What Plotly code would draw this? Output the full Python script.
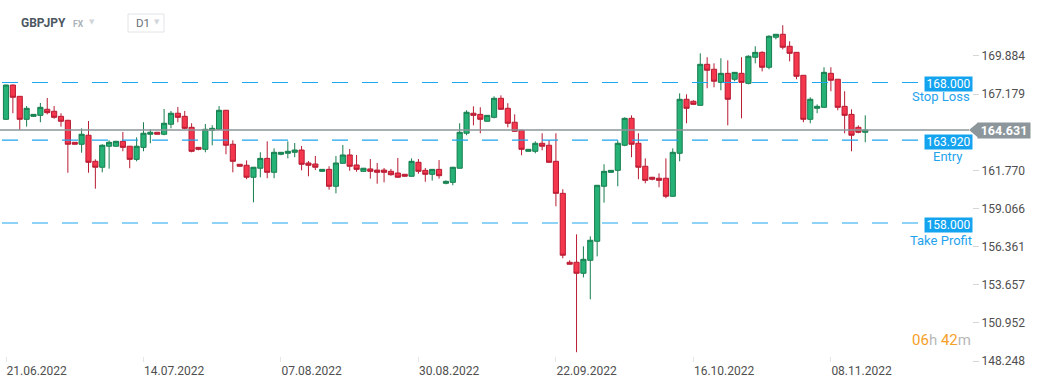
import plotly.graph_objects as go
from datetime import date, timedelta

# ---------------- data (GBPJPY, D1) ----------------
open_ = [165.39, 167.82, 167.02, 165.39, 165.60, 165.67, 166.10, 165.96, 165.60, 165.32,
         163.76, 163.62, 164.26, 162.41, 161.99, 163.48, 163.48, 163.83, 163.48, 162.55,
         163.40, 164.33, 164.47, 164.33, 165.04, 165.82, 165.60, 164.82, 163.40, 163.26,
         164.61, 164.68, 166.03, 163.62, 162.20, 162.13, 161.28, 161.92, 162.62, 161.63,
         162.91, 162.98, 163.05, 163.21, 162.29, 162.22, 161.70, 161.84, 160.64, 162.27,
         162.86, 162.15, 161.70, 161.87, 161.79, 161.79, 161.70, 161.58, 161.49, 161.35,
         162.34, 161.77, 161.49, 161.84, 160.85, 160.92, 161.92, 164.40, 165.82, 165.74,
         165.25, 165.53, 166.88, 166.17, 165.18, 164.61, 163.12, 163.12, 163.69, 163.55,
         162.41, 160.14, 155.25, 155.25, 154.47, 155.39, 156.74, 160.64, 161.63, 161.77,
         163.55, 165.46, 163.69, 162.06, 161.28, 161.21, 161.21, 159.93, 162.98, 166.81,
         166.67, 166.38, 169.29, 168.94, 168.01, 168.65, 168.23, 168.65, 167.94, 169.79,
         170.14, 169.08, 171.21, 171.42, 170.57, 170.14, 168.51, 165.39, 166.17, 166.24,
         168.65, 168.23, 166.31, 165.74, 164.82, 164.47]
high = [167.85, 167.85, 167.04, 166.33, 165.76, 166.55, 166.90, 166.33, 165.82, 165.35,
        163.78, 164.75, 165.27, 162.55, 163.62, 163.90, 163.86, 164.49, 163.50, 164.11,
        165.18, 164.68, 164.49, 166.12, 165.98, 166.26, 165.98, 165.11, 163.42, 165.06,
        164.97, 166.33, 166.05, 163.90, 162.22, 162.48, 162.01, 163.05, 163.83, 163.33,
        163.07, 163.83, 163.71, 163.50, 162.43, 162.79, 161.86, 162.06, 162.79, 163.57,
        163.28, 162.86, 161.94, 162.57, 162.29, 161.94, 161.87, 162.65, 161.51, 162.62,
        162.57, 161.94, 161.86, 162.50, 161.06, 162.01, 165.11, 166.03, 166.31, 166.24,
        165.69, 167.02, 167.09, 166.53, 165.74, 164.63, 163.28, 163.83, 164.40, 163.90,
        164.40, 160.43, 155.39, 157.23, 156.38, 157.09, 160.73, 162.20, 161.79, 163.90,
        165.53, 165.67, 164.40, 162.62, 161.30, 161.56, 162.62, 163.33, 167.23, 167.16,
        166.74, 170.07, 169.79, 169.36, 169.72, 169.57, 168.74, 169.79, 169.93, 170.57,
        170.21, 171.35, 171.44, 172.06, 170.92, 170.16, 168.53, 166.95, 166.45, 169.08,
        169.08, 168.25, 167.38, 166.10, 164.96, 165.67]
low = [165.35, 165.82, 164.63, 164.87, 165.58, 165.18, 165.74, 165.43, 164.87, 161.60,
       163.60, 163.02, 161.60, 160.47, 161.63, 161.89, 163.45, 163.12, 161.92, 162.41,
       163.12, 163.69, 164.31, 164.26, 164.75, 165.18, 164.68, 163.05, 163.19, 163.05,
       163.55, 164.66, 162.91, 161.63, 162.04, 161.14, 159.50, 161.28, 161.21, 161.21,
       162.84, 162.62, 162.70, 161.77, 161.35, 161.79, 161.68, 160.40, 160.14, 162.25,
       161.74, 161.67, 161.68, 161.18, 160.82, 160.92, 161.39, 161.26, 161.33, 161.33,
       161.53, 160.96, 161.04, 161.18, 160.78, 160.71, 161.90, 164.26, 164.96, 164.40,
       165.23, 165.46, 166.08, 164.82, 164.52, 162.84, 163.10, 162.98, 163.19, 162.32,
       159.22, 155.53, 155.09, 148.87, 154.18, 152.62, 155.67, 159.48, 161.61, 160.64,
       163.48, 162.70, 161.14, 160.85, 161.06, 160.57, 159.79, 159.91, 162.41, 165.11,
       166.43, 166.36, 167.59, 167.66, 167.45, 164.96, 168.09, 165.46, 167.87, 169.36,
       168.79, 168.94, 171.06, 170.35, 169.50, 168.23, 165.18, 165.11, 165.82, 166.22,
       167.38, 166.03, 164.40, 163.12, 164.40, 163.76]
close = [167.82, 166.95, 165.39, 166.17, 165.74, 166.24, 165.86, 165.53, 165.25, 163.62,
         163.62, 164.33, 162.34, 161.99, 163.55, 163.76, 163.83, 163.40, 162.55, 163.48,
         164.40, 164.47, 164.33, 165.11, 165.82, 165.53, 164.75, 163.12, 163.26, 164.68,
         164.75, 166.03, 163.55, 162.41, 162.06, 161.28, 161.99, 162.62, 161.63, 163.05,
         163.05, 163.12, 163.21, 162.20, 162.13, 161.99, 161.84, 160.64, 162.29, 162.86,
         162.06, 161.84, 161.92, 161.70, 161.63, 161.63, 161.46, 161.28, 161.35, 162.41,
         161.70, 161.49, 161.84, 161.39, 160.99, 161.99, 164.47, 165.89, 165.67, 165.39,
         165.67, 166.88, 166.10, 165.11, 164.54, 163.26, 163.26, 163.69, 163.48, 162.34,
         160.14, 155.75, 155.11, 154.47, 155.46, 156.81, 160.71, 161.70, 161.77, 163.69,
         165.46, 163.62, 161.99, 161.06, 161.14, 161.06, 159.93, 163.05, 166.81, 166.17,
         166.45, 169.29, 168.87, 168.09, 168.65, 166.81, 168.72, 168.01, 169.86, 170.14,
         169.08, 171.28, 171.42, 170.50, 170.07, 168.44, 165.39, 166.81, 166.31, 168.72,
         168.16, 166.24, 165.67, 164.26, 164.47, 164.631]

# trading sessions (Sunday to Friday, 6 per week)
dates = []
d = date(2022, 6, 21)
while len(dates) < len(open_):
    if d.weekday() != 5:
        dates.append(d.isoformat())
    d += timedelta(days=1)

x_tick_dates = ["2022-06-21", "2022-07-14", "2022-08-07", "2022-08-30",
                "2022-09-22", "2022-10-16", "2022-11-08"]
x_tick_text = ["21.06.2022", "14.07.2022", "07.08.2022", "30.08.2022",
               "22.09.2022", "16.10.2022", "08.11.2022"]
# (the 164.475 tick is hidden behind the last-price label in the original)
y_ticks = [148.248, 150.952, 153.657, 156.361, 159.066, 161.770, 167.179, 169.884]

last_price = 164.631
levels = [168.000, 163.920, 158.000]
level_names = ["Stop Loss", "Entry", "Take Profit"]

# ---------------- layout geometry ----------------
W, H = 1041, 385
ML, MR, MT, MB = 0, 69, 8, 23
PW = W - ML - MR
PH = H - MT - MB
Y_RANGE = [148.177, 173.284]
X_RANGE = [-0.873, 140.53]
PX_PER_UNIT = PH / (Y_RANGE[1] - Y_RANGE[0])


def px_x(px):
    return (px - ML) / PW


def px_y(py):
    return (H - MB - py) / PH


fig = go.Figure(go.Candlestick(
    x=dates, open=open_, high=high, low=low, close=close,
    increasing=dict(fillcolor="#26b276", line=dict(color="#177d4e", width=1)),
    decreasing=dict(fillcolor="#f4374d", line=dict(color="#b81c33", width=1)),
    whiskerwidth=0, hoverinfo="skip",
))

BLUE = "#1ea6ef"
shapes = []
annotations = []

# current price line
shapes.append(dict(type="line", xref="paper", yref="y", x0=0, x1=px_x(969),
                   y0=last_price, y1=last_price, line=dict(color="#8c969b", width=1.5),
                   layer="above"))
# arrow of the price label
shapes.append(dict(type="path", xref="paper", yref="y", xsizemode="pixel", ysizemode="pixel",
                   xanchor=px_x(969), yanchor=last_price,
                   path="M 0,0 L 9,7.5 L 9,-7.5 Z", fillcolor="#8c969b",
                   line=dict(width=0), layer="above"))
annotations.append(dict(xref="paper", yref="y", x=px_x(977), y=last_price, xanchor="left",
                        yanchor="middle", text="<b>164.631</b>", showarrow=False,
                        bgcolor="#8c969b", width=52, height=15, borderpad=0,
                        font=dict(color="white", size=12.5, family="Roboto")))

# trade levels (small pixel nudges keep each dashed line on a crisp pixel row)
text_centers = [941, 948, 941]
text_shift = [-14, -16, -17]
box_shift = [-1, -1.5, -1]
line_nudge_px = [0, 0, 0.5]
for lvl, name, tc, ts, bs, nudge in zip(levels, level_names, text_centers, text_shift,
                                        box_shift, line_nudge_px):
    yl = lvl + nudge / PX_PER_UNIT
    shapes.append(dict(type="line", xref="paper", yref="y", x0=px_x(2), x1=px_x(918),
                       y0=yl, y1=yl, line=dict(color=BLUE, width=1.2, dash="16px,14px"),
                       layer="above"))
    annotations.append(dict(xref="paper", yref="y", x=px_x(973), y=lvl, xanchor="right",
                            yanchor="middle", yshift=bs, text=f"{lvl:.3f}", showarrow=False,
                            bgcolor="#13a3ef", width=47, height=14, borderpad=0,
                            font=dict(color="white", size=12, family="Roboto")))
    annotations.append(dict(xref="paper", yref="y", x=px_x(tc), y=lvl, xanchor="center",
                            yanchor="middle", yshift=ts, text=name, showarrow=False,
                            font=dict(color="#1fa3ec", size=13, family="Roboto")))

# header
annotations += [
    dict(xref="paper", yref="paper", x=px_x(19), y=px_y(23), xanchor="left", yanchor="middle",
         text="<b>GBPJPY</b>", showarrow=False, font=dict(color="#4d5762", size=12, family="Roboto")),
    dict(xref="paper", yref="paper", x=px_x(71), y=px_y(24), xanchor="left", yanchor="middle",
         text="<b>FX</b>", showarrow=False, font=dict(color="#aab1b8", size=8.5, family="Roboto")),
    dict(xref="paper", yref="paper", x=px_x(87), y=px_y(22), xanchor="left", yanchor="middle",
         text="▼", showarrow=False, font=dict(color="#d2d6da", size=7, family="DejaVu Sans")),
    dict(xref="paper", yref="paper", x=px_x(134), y=px_y(23), xanchor="left", yanchor="middle",
         text="D1", showarrow=False, font=dict(color="#6a7076", size=11.5, family="Roboto")),
    dict(xref="paper", yref="paper", x=px_x(152), y=px_y(22), xanchor="left", yanchor="middle",
         text="▼", showarrow=False, font=dict(color="#d2d6da", size=7, family="DejaVu Sans")),
]
shapes.append(dict(type="rect", xref="paper", yref="paper", x0=px_x(128), x1=px_x(164),
                   y0=px_y(32), y1=px_y(14), line=dict(color="#e1e4e7", width=1),
                   fillcolor="rgba(0,0,0,0)", layer="above"))

# countdown
OR, GR = "#f5a027", "#b8b8b8"
annotations.append(dict(
    xref="paper", yref="paper", x=px_x(973), y=px_y(340), xanchor="right", yanchor="middle",
    text=(f"<span style='color:{OR}'>06</span><span style='color:{GR}'>h</span> "
          f"<span style='color:{OR}'>42</span><span style='color:{GR}'>m</span>"),
    showarrow=False, font=dict(size=15, family="Roboto")))

fig.update_layout(
    width=W, height=H, margin=dict(l=ML, r=MR, t=MT, b=MB),
    paper_bgcolor="white", plot_bgcolor="white", showlegend=False,
    boxgap=0.25, boxgroupgap=0, hovermode=False,
    font=dict(family="Roboto", size=12, color="#4f4f4f"),
    shapes=shapes, annotations=annotations,
)
fig.update_xaxes(
    type="category", range=X_RANGE, rangeslider_visible=False,
    showgrid=False, zeroline=False, showline=False,
    tickvals=x_tick_dates, ticktext=x_tick_text,
    ticks="inside", ticklen=5, tickcolor="#e6e6e6",
    ticklabelposition="outside right",
    tickfont=dict(size=12, color="#4f4f4f", family="Roboto"),
)
fig.update_yaxes(
    side="right", range=Y_RANGE, showgrid=False, zeroline=False, showline=False,
    tickvals=y_ticks, ticktext=[f"{v:.3f}" for v in y_ticks],
    ticks="outside", ticklen=6, tickcolor="#d6d6d6",
    tickfont=dict(size=12, color="#4f4f4f", family="Roboto"),
)

fig.write_html("out.html", config={"displayModeBar": False},
               post_script="document.body.style.margin='0';")
